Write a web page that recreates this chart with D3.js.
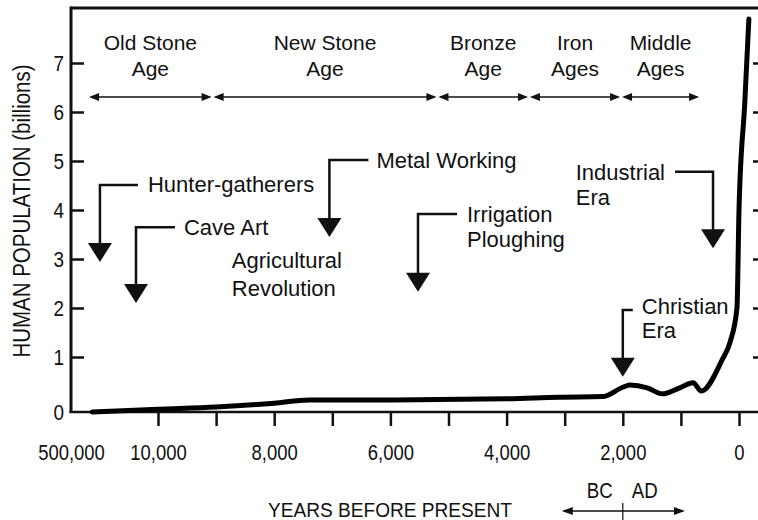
<!DOCTYPE html>
<html>
<head>
<meta charset="utf-8">
<script src="https://cdn.jsdelivr.net/npm/d3@7"></script>
<style>
  html, body { margin: 0; padding: 0; background: #fff; }
  svg { display: block; font-family: "Liberation Sans", Arial, sans-serif; }
  text { fill: #111; }
</style>
</head>
<body>
<svg id="chart" width="758" height="520"></svg>
<script>
// World population (billions) against years before present
const years      = [380000, 10000, 9000, 8000, 7400, 6200, 4000, 3100, 2350, 2000, 1880, 1580, 1320, 1020, 790, 650, 290, 155, 35, 0, -100, -170];
const population = [0, 0.05, 0.09, 0.16, 0.22, 0.22, 0.24, 0.27, 0.28, 0.45, 0.49, 0.44, 0.33, 0.44, 0.53, 0.38, 0.95, 1.3, 2.0, 4.0, 6.2, 7.9];

// Axis ticks and labels
const yTicks = [0, 1, 2, 3, 4, 5, 6, 7];
const xTicks = [10000, 9000, 8000, 7000, 6000, 5000, 4000, 3000, 2000, 1000, 0];
const xLabelled = [500000, 10000, 8000, 6000, 4000, 2000, 0];
const yTitle = "HUMAN POPULATION (billions)";
const xTitle = "YEARS BEFORE PRESENT";

// Ages of history: names and boundaries (years before present)
const eraNames  = [["Old Stone", "Age"], ["New Stone", "Age"], ["Bronze", "Age"], ["Iron", "Ages"], ["Middle", "Ages"]];
const eraBounds = [404000, 9060, 5190, 3615, 2030, 670];

// Milestones: text, year of the pointer, population at arrow tip and at the bend
const noteText  = [["Hunter-gatherers"], ["Cave Art"], ["Metal Working"], ["Irrigation", "Ploughing"], ["Industrial", "Era"], ["Christian", "Era"]];
const noteYear  = [337000, 134000, 7050, 5525, 447, 2000];
const noteTip   = [2.94, 2.10, 3.45, 2.33, 3.22, 0.64];
const noteBend  = [4.51, 3.65, 5.02, 3.92, 4.78, 1.96];

const agriText = ["Agricultural", "Revolution"];
const agriYear = 8730, agriPop = 2.82;

// BC / AD marker under the axis
const calendarText = ["BC", "AD"];
const calendarSpan = [3050, 2000, 930];

// ---------------------------------------------------------------
const svg = d3.select("#chart");
const plotLeft = 71, plotRight = 766, plotTop = 8, plotBottom = 412;

// broken scale: the far past is squeezed into the first segment
const x = d3.scaleLinear().domain([500000, 10000, 0]).range([plotLeft, 158, 739]);
const y = d3.scaleLinear().domain([0, 1, 7]).range([plotBottom, 357, 63]);

const ink = "#111";

// frame
svg.append("line").attr("x1", plotLeft).attr("x2", plotRight).attr("y1", plotTop).attr("y2", plotTop)
  .attr("stroke", ink).attr("stroke-width", 3);
svg.append("line").attr("x1", plotLeft).attr("x2", plotLeft).attr("y1", plotTop - 1.5).attr("y2", plotBottom + 1)
  .attr("stroke", ink).attr("stroke-width", 3);
svg.append("line").attr("x1", plotLeft - 1.5).attr("x2", plotRight).attr("y1", plotBottom).attr("y2", plotBottom)
  .attr("stroke", ink).attr("stroke-width", 2.5);
svg.append("line").attr("x1", plotRight).attr("x2", plotRight).attr("y1", plotTop).attr("y2", plotBottom)
  .attr("stroke", ink).attr("stroke-width", 3);

// left axis
const yAxis = svg.append("g").attr("transform", `translate(${plotLeft},0)`)
  .call(d3.axisLeft(y).tickValues(yTicks).tickSize(-13).tickPadding(7).tickFormat(d3.format("d")));
yAxis.select(".domain").remove();
yAxis.selectAll(".tick line").attr("stroke", ink).attr("stroke-width", 2.5)
  .filter(d => d === 0).remove();
yAxis.selectAll(".tick text")
  .attr("font-size", 22).attr("font-family", null).attr("fill", ink)
  .attr("transform", "scale(0.86,1)").attr("x", -7 / 0.86);

// right axis (ticks only)
const yAxisR = svg.append("g").attr("transform", `translate(${plotRight},0)`)
  .call(d3.axisRight(y).tickValues(yTicks.filter(d => d > 0)).tickSize(-13).tickFormat(""));
yAxisR.select(".domain").remove();
yAxisR.selectAll(".tick line").attr("stroke", ink).attr("stroke-width", 2.5);

// bottom axis
const fmt = d3.format(",");
const xAxis = svg.append("g").attr("transform", `translate(0,${plotBottom})`)
  .call(d3.axisBottom(x).tickValues([500000].concat(xTicks)).tickSize(14)
    .tickFormat(d => xLabelled.includes(d) ? fmt(d) : ""));
xAxis.select(".domain").remove();
xAxis.selectAll(".tick line").attr("stroke", ink).attr("stroke-width", 2.5)
  .filter(d => d === 500000).remove();
xAxis.selectAll(".tick text")
  .attr("font-size", 22).attr("font-family", null).attr("fill", ink)
  .attr("y", 48).attr("dy", 0).attr("transform", "scale(0.84,1)");

// axis titles
svg.append("text")
  .attr("transform", "translate(30,211) rotate(-90) scale(0.89,1)")
  .attr("text-anchor", "middle").attr("font-size", 23).text(yTitle);
svg.append("text")
  .attr("transform", "translate(390,517) scale(0.91,1)")
  .attr("text-anchor", "middle").attr("font-size", 21).text(xTitle);

// population curve
const pts = years.map((yr, i) => [yr, population[i]]);
svg.append("path").datum(pts)
  .attr("d", d3.line().x(d => x(d[0])).y(d => y(d[1])).curve(d3.curveMonotoneX))
  .attr("fill", "none").attr("stroke", "#000").attr("stroke-width", 5)
  .attr("stroke-linecap", "round").attr("stroke-linejoin", "round");

// helper: double-headed horizontal arrow
function spanArrow(x0, x1, yy, head = 10, half = 4) {
  const g = svg.append("g");
  g.append("line").attr("x1", x0 + 2).attr("x2", x1 - 2).attr("y1", yy).attr("y2", yy)
    .attr("stroke", ink).attr("stroke-width", 1.5);
  g.append("path").attr("d", `M${x0},${yy}L${x0 + head},${yy - half}L${x0 + head},${yy + half}Z`).attr("fill", ink);
  g.append("path").attr("d", `M${x1},${yy}L${x1 - head},${yy - half}L${x1 - head},${yy + half}Z`).attr("fill", ink);
  return g;
}

// ages band
const eraArrowY = 97, eraLine1 = 50, eraLine2 = 76;
eraNames.forEach((name, i) => {
  const x0 = x(eraBounds[i]) + 1, x1 = x(eraBounds[i + 1]) - 1, cx = (x0 + x1) / 2;
  spanArrow(x0, x1, eraArrowY);
  const t = svg.append("text").attr("text-anchor", "middle").attr("font-size", 21);
  t.append("tspan").attr("x", cx).attr("y", eraLine1).text(name[0]);
  t.append("tspan").attr("x", cx).attr("y", eraLine2).text(name[1]);
});

// milestone pointers: side of the label, length of the bend, text offsets
const noteLayout = [
  { side: 1, len: 38, dx: 48, dy: 7, lead: 25 },
  { side: 1, len: 39, dx: 48, dy: 8, lead: 25 },
  { side: 1, len: 39, dx: 47, dy: 8, lead: 25 },
  { side: 1, len: 39, dx: 49, dy: 8, lead: 25 },
  { side: -1, len: 38, dx: 48, dy: 8, lead: 25 },
  { side: 1, len: 10, dx: 19, dy: 4, lead: 24 }
];

noteText.forEach((lines, i) => {
  const L = noteLayout[i];
  const xv = x(noteYear[i]), yt = y(noteTip[i]), ye = y(noteBend[i]);
  const yb = yt - 19, half = 12;
  svg.append("path")
    .attr("d", `M${xv + L.side * L.len},${ye}H${xv}V${yb + 1}`)
    .attr("fill", "none").attr("stroke", ink).attr("stroke-width", 2.5)
    .attr("stroke-linejoin", "miter");
  svg.append("path")
    .attr("d", `M${xv - half},${yb}L${xv + half},${yb}L${xv},${yt}Z`).attr("fill", ink);

  const t = svg.append("text").attr("font-size", 22);
  const first = t.append("tspan").attr("y", ye + L.dy).text(lines[0]);
  let tx;
  if (L.side > 0) {
    tx = xv + L.dx;
  } else {
    tx = xv - L.dx - first.node().getComputedTextLength();
  }
  first.attr("x", tx);
  lines.slice(1).forEach((s, k) => {
    t.append("tspan").attr("x", tx).attr("y", ye + L.dy + L.lead * (k + 1)).text(s);
  });
});

// agricultural revolution label
const agri = svg.append("text").attr("font-size", 22);
agriText.forEach((s, k) => {
  agri.append("tspan").attr("x", x(agriYear)).attr("y", y(agriPop) + 28 * k).text(s);
});

// BC | AD marker
const cMid = x(calendarSpan[1]);
spanArrow(x(calendarSpan[0]), x(calendarSpan[2]), 511, 11, 4);
svg.append("line").attr("x1", cMid).attr("x2", cMid).attr("y1", 503).attr("y2", 520)
  .attr("stroke", ink).attr("stroke-width", 1.2);
svg.append("text").attr("transform", `translate(${cMid - 10},498) scale(0.85,1)`)
  .attr("text-anchor", "end").attr("font-size", 22).text(calendarText[0]);
svg.append("text").attr("transform", `translate(${cMid + 9},498) scale(0.85,1)`)
  .attr("text-anchor", "start").attr("font-size", 22).text(calendarText[1]);
</script>
</body>
</html>
